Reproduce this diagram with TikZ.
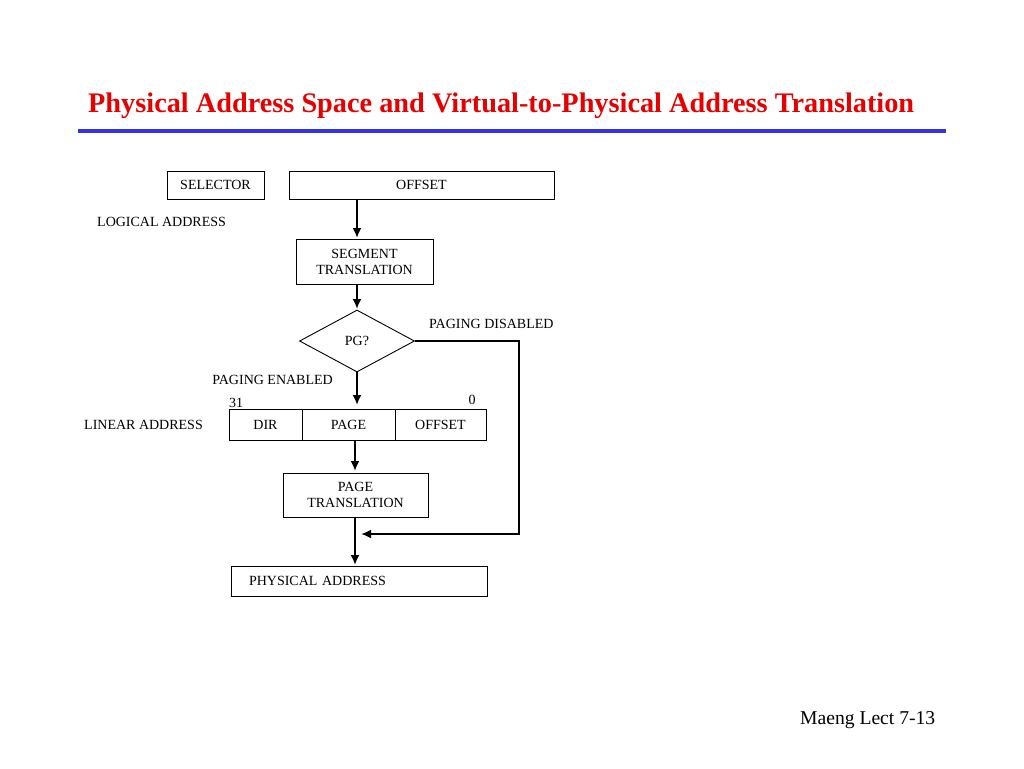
\documentclass[tikz,border=0pt]{standalone}
\usepackage{fontspec}
\setmainfont{Liberation Serif}
\usetikzlibrary{shapes.geometric,arrows.meta}
\definecolor{titlered}{RGB}{230,0,0}
\definecolor{lineblue}{RGB}{51,51,230}
\begin{document}
\begin{tikzpicture}[x=1pt,y=-1pt,
  boxnode/.style={draw,line width=0.9pt,inner sep=0pt,font=\fontsize{14}{16}\selectfont,align=center},
  lbl/.style={inner sep=0pt,font=\fontsize{14}{16}\selectfont},
  tip/.style={-{Latex[length=10pt,width=9pt]}},
  conn/.style={line width=2.7pt,tip},
  plain/.style={line width=2.7pt}]
\useasboundingbox[fill=white] (0,0) rectangle (1024,768);
% title
\node[anchor=base west,inner sep=0pt,text=titlered,font=\fontsize{28.3}{31}\selectfont\bfseries] (title) at (88,112) {Physical Address Space and Virtual-to-Physical Address Translation};
\draw[lineblue,line width=4pt] (78,131) -- (946,131);
% logical address
\node[boxnode,minimum width=97pt,minimum height=28pt] (sel) at (215.5,185) {SELECTOR};
\node[boxnode,minimum width=265pt,minimum height=28pt] (off) at (421.5,185) {OFFSET};
\node[lbl,anchor=west] (logical) at (97,222) {LOGICAL ADDRESS};
\node[boxnode,minimum width=137pt,minimum height=45pt] (seg) at (364.5,261.5) {SEGMENT\\TRANSLATION};
\node[draw,line width=0.9pt,diamond,aspect=1.85,minimum width=115pt,minimum height=62pt,inner sep=0pt,font=\fontsize{14}{16}\selectfont] (pg) at (357,341) {PG?};
\node[lbl,anchor=west] (dis) at (429,324) {PAGING DISABLED};
\node[lbl,anchor=east] (en) at (333,380) {PAGING ENABLED};
% linear address
\node[boxnode,minimum width=73pt,minimum height=31pt] (dir) at (265.5,424.5) {DIR};
\node[boxnode,minimum width=93pt,minimum height=31pt] (page) at (348.5,424.5) {PAGE};
\node[boxnode,minimum width=91pt,minimum height=31pt] (loff) at (440.5,424.5) {OFFSET};
\node[lbl] (b31) at (236,403) {31};
\node[lbl] (b0) at (472,400) {0};
\node[lbl,anchor=west] (linear) at (84,425) {LINEAR ADDRESS};
\node[boxnode,minimum width=145pt,minimum height=44pt] (ptr) at (355.5,495) {PAGE\\TRANSLATION};
\node[boxnode,minimum width=256pt,minimum height=30pt,text width=220pt,align=left] (phys) at (359,581) {PHYSICAL ADDRESS};
\coordinate (join) at (361,534);
% connectors
\draw[conn] (357,199) -- (357,238);
\draw[conn] (357,284) -- (357,309);
\draw[conn] (pg.south) -- (357,405);
\draw[conn] (355,441) -- (355,471);
\draw[conn] (355,517) -- (355,565);
\draw[plain,tip] (pg.east) -- (519,341) -- (519,534) -- (join);
% footer
\node[anchor=base west,inner sep=0pt,font=\fontsize{19.6}{22}\selectfont] (foot) at (800,724) {Maeng Lect 7-13};
\end{tikzpicture}
\end{document}
